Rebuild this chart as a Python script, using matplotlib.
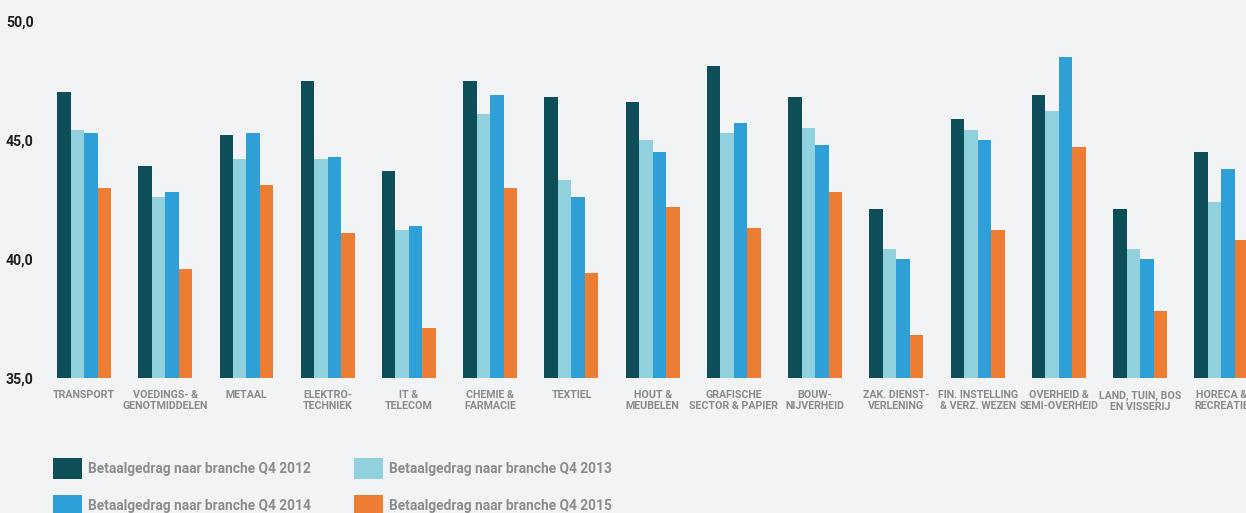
import matplotlib
matplotlib.use("Agg")
import matplotlib.pyplot as plt
from matplotlib.patches import Rectangle
import numpy as np

categories = ["TRANSPORT", "VOEDINGS- &\nGENOTMIDDELEN", "METAAL", "ELEKTRO-\nTECHNIEK",
              "IT &\nTELECOM", "CHEMIE &\nFARMACIE", "TEXTIEL", "HOUT &\nMEUBELEN",
              "GRAFISCHE\nSECTOR & PAPIER", "BOUW-\nNIJVERHEID", "ZAK. DIENST-\nVERLENING",
              "FIN. INSTELLING\n& VERZ. WEZEN", "OVERHEID &\nSEMI-OVERHEID",
              "LAND, TUIN, BOS\nEN VISSERIJ", "HORECA &\nRECREATIE"]

q4_2012 = [47.0, 43.9, 45.2, 47.5, 43.7, 47.5, 46.8, 46.6, 48.1, 46.8, 42.1, 45.9, 46.9, 42.1, 44.5]
q4_2013 = [45.4, 42.6, 44.2, 44.2, 41.2, 46.1, 43.3, 45.0, 45.3, 45.5, 40.4, 45.4, 46.2, 40.4, 42.4]
q4_2014 = [45.3, 42.8, 45.3, 44.3, 41.4, 46.9, 42.6, 44.5, 45.7, 44.8, 40.0, 45.0, 48.5, 40.0, 43.8]
q4_2015 = [43.0, 39.6, 43.1, 41.1, 37.1, 43.0, 39.4, 42.2, 41.3, 42.8, 36.8, 41.2, 44.7, 37.8, 40.8]

series_labels = ["Betaalgedrag naar branche Q4 2012", "Betaalgedrag naar branche Q4 2013",
                 "Betaalgedrag naar branche Q4 2014", "Betaalgedrag naar branche Q4 2015"]
colors = ["#0e4e58", "#90d1dd", "#2e9fd7", "#ee7d34"]

yticks = [35.0, 40.0, 45.0, 50.0]
ytick_labels = ["35,0", "40,0", "45,0", "50,0"]

W, H = 1246, 513
bg = "#f2f3f5"
plt.rcParams['font.family'] = ['Roboto', 'DejaVu Sans']

fig = plt.figure(figsize=(W / 100, H / 100), dpi=100, facecolor=bg)

def fx(px):
    return px / W

def fy(py):
    return 1 - py / H

left, right = 43.4, 1262.0
top, bottom = 21.0, 378.0
ax = fig.add_axes([fx(left), fy(bottom), fx(right - left), fy(top) - fy(bottom)])
ax.set_facecolor(bg)

x = np.arange(len(categories))
bw = 0.166
data = [q4_2012, q4_2013, q4_2014, q4_2015]
for i, (vals, c, lab) in enumerate(zip(data, colors, series_labels)):
    ax.bar(x + (i - 1.5) * bw, np.array(vals) - 35.0, bottom=35.0, width=bw,
           color=c, label=lab, linewidth=0)

ax.set_xlim(-0.5, len(categories) - 0.5)
ax.set_ylim(35, 50)
ax.set_yticks(yticks)
ax.set_yticklabels(ytick_labels, fontsize=10.2, color="#1e1e1e", fontweight="bold")
ax.set_xticks(x)
ax.set_xticklabels(categories, fontsize=7.7, color="#8a8a8a", linespacing=1.1,
                   fontweight="bold")
ax.tick_params(axis="both", length=0)
ax.tick_params(axis="y", pad=7)
ax.tick_params(axis="x", pad=9)
for s in ax.spines.values():
    s.set_visible(False)

# legend (two columns)
leg_pos = [(53, 458), (354, 458), (53, 495), (354, 495)]
for (px, py), c, lab in zip(leg_pos, colors, series_labels):
    fig.add_artist(Rectangle((fx(px), fy(py + 21)), fx(29), fy(0) - fy(21),
                             transform=fig.transFigure, facecolor=c, edgecolor="none"))
    fig.text(fx(px + 35), fy(py + 11), lab, fontsize=9.9, color="#8c8c8c",
             ha="left", va="center", fontweight="bold")

fig.savefig("out.png", dpi=100, facecolor=bg)
